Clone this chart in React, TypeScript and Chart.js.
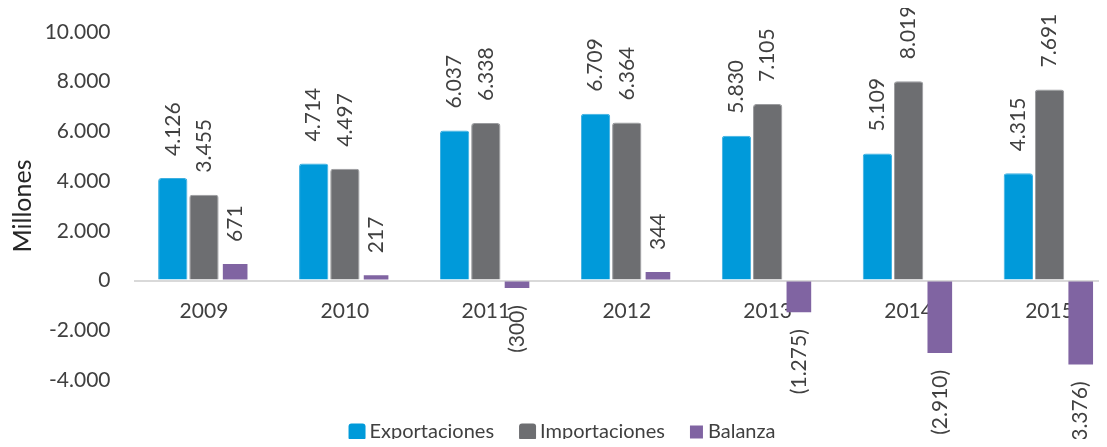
import React, { useEffect, useRef } from 'react';
import { Chart, registerables } from 'chart.js';

Chart.register(...registerables);

const years = ['2009', '2010', '2011', '2012', '2013', '2014', '2015'];
const exportaciones = [4126, 4714, 6037, 6709, 5830, 5109, 4315];
const importaciones = [3455, 4497, 6338, 6364, 7105, 8019, 7691];
const balanza = [671, 217, -300, 344, -1275, -2910, -3376];
const seriesNames = ['Exportaciones', 'Importaciones', 'Balanza'];
const seriesColors = ['#009ADA', '#6D6E71', '#8064A2'];
const seriesBorders = ['#3CAFE0', '#9A9B9E', '#8064A2'];
const yMin = -4000;
const yMax = 10000;
const yStep = 2000;
const axisTitle = 'Millones';

const FONT = 'Lato, "Open Sans", sans-serif';
const TEXT = '#404040';

function thousands(n: number): string {
  return Math.abs(Math.round(n))
    .toString()
    .replace(/\B(?=(\d{3})+(?!\d))/g, '.');
}
function tickFmt(n: number): string {
  return (n < 0 ? '-' : '') + thousands(n);
}
function labelFmt(n: number): string {
  return n < 0 ? '(' + thousands(n) + ')' : thousands(n);
}

const barLabels = {
  id: 'barLabels',
  afterDatasetsDraw(chart: any) {
    const ctx = chart.ctx;
    ctx.save();
    ctx.font = `21px ${FONT}`;
    ctx.fillStyle = TEXT;
    ctx.textBaseline = 'middle';
    chart.data.datasets.forEach((ds: any, di: number) => {
      const meta = chart.getDatasetMeta(di);
      meta.data.forEach((el: any, i: number) => {
        const v = ds.data[i];
        const { x, y } = el.getProps(['x', 'y'], true);
        ctx.save();
        ctx.translate(x, v >= 0 ? y - 22 : y + 17);
        ctx.rotate(-Math.PI / 2);
        ctx.textAlign = v >= 0 ? 'left' : 'right';
        ctx.fillText(labelFmt(v), 0, 0);
        ctx.restore();
      });
    });
    ctx.restore();
  },
};

const customLegend = {
  id: 'customLegend',
  afterDraw(chart: any) {
    const ctx = chart.ctx;
    ctx.save();
    ctx.font = `20px ${FONT}`;
    ctx.textBaseline = 'middle';
    ctx.textAlign = 'left';
    const cy = 424;
    const items = chart.data.datasets.map((ds: any, i: number) => ({
      name: ds.label,
      color: ds.backgroundColor,
      box: i < 2 ? 17 : 13,
      gap: i < 2 ? 4 : 5,
      round: i < 2,
    }));
    const itemGap = 25;
    const widths = items.map((it: any) => it.box + it.gap + ctx.measureText(it.name).width);
    const total = widths.reduce((a: number, b: number) => a + b, 0) + itemGap * (items.length - 1);
    let x = 554 - total / 2;
    items.forEach((it: any, i: number) => {
      ctx.fillStyle = it.color;
      ctx.beginPath();
      if (it.round && ctx.roundRect) {
        ctx.roundRect(x, cy - it.box / 2, it.box, it.box, 3);
      } else {
        ctx.rect(x, cy - it.box / 2, it.box, it.box);
      }
      ctx.fill();
      ctx.fillStyle = TEXT;
      ctx.fillText(it.name, x + it.box + it.gap, cy);
      x += widths[i] + itemGap;
    });
    ctx.restore();
  },
};

export default function App() {
  const canvasRef = useRef<HTMLCanvasElement | null>(null);

  useEffect(() => {
    document.body.style.overflow = 'hidden';
    const canvas = canvasRef.current;
    if (!canvas) return;
    const seriesData = [exportaciones, importaciones, balanza];
    const chart = new Chart(canvas, {
      type: 'bar',
      data: {
        labels: years,
        datasets: seriesData.map((d, i) => ({
          label: seriesNames[i],
          data: d,
          backgroundColor: seriesColors[i],
          borderColor: seriesBorders[i],
          borderWidth: i < 2 ? 1 : 0,
          borderRadius: i < 2 ? 3 : 0,
          categoryPercentage: 0.664,
          barPercentage: i < 2 ? 0.94 : 0.79,
        })),
      },
      options: {
        animation: false,
        responsive: true,
        maintainAspectRatio: false,
        layout: { padding: { top: 24, bottom: 67, right: 8, left: 0 } },
        plugins: {
          legend: { display: false },
          tooltip: { enabled: false },
        },
        scales: {
          x: {
            position: { y: 0 } as any,
            grid: { display: false, drawTicks: false },
            border: { display: false },
            ticks: {
              color: TEXT,
              font: { family: FONT, size: 21 },
              padding: 18,
              maxRotation: 0,
              autoSkip: false,
            },
          },
          y: {
            min: yMin,
            max: yMax,
            ticks: {
              stepSize: yStep,
              callback: (v: any) => tickFmt(Number(v)),
              color: TEXT,
              font: { family: FONT, size: 21 },
              padding: 23,
            },
            grid: {
              drawTicks: false,
              color: (c: any) => (c.tick && c.tick.value === 0 ? '#D9D9D9' : 'rgba(0,0,0,0)'),
              lineWidth: 2,
            },
            border: { display: false },
            title: {
              display: true,
              text: axisTitle,
              color: '#262626',
              font: { family: FONT, size: 25 },
              padding: { top: 0, bottom: 0 },
            },
            afterFit: (s: any) => {
              s.width = 125.5;
              s.paddingTop = 0;
              s.paddingBottom = 0;
            },
          },
        },
      },
      plugins: [barLabels, customLegend],
    });
    return () => chart.destroy();
  }, []);

  return (
    <div style={{ width: 1099, height: 439, overflow: 'hidden', position: 'relative', marginBottom: -8 }}>
      <div style={{ width: 1120, height: 439, position: 'relative' }}>
        <canvas ref={canvasRef} />
      </div>
    </div>
  );
}
